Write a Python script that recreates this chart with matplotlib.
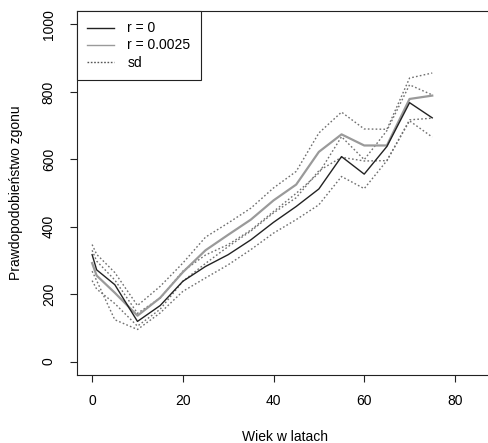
import matplotlib

matplotlib.use("Agg")
import matplotlib.pyplot as plt

plt.rcParams["font.family"] = ["Liberation Sans", "DejaVu Sans"]
plt.rcParams["font.size"] = 10

# age groups (years)
age = [0, 1, 5, 10, 15, 20, 25, 30, 35, 40, 45, 50, 55, 60, 65, 70, 75]

# r = 0
r0_mean = [317, 272, 228, 119, 166, 238, 282, 317, 361, 413, 460, 512, 608, 556, 638, 768, 723]
r0_hi = [330, 298, 242, 143, 188, 268, 316, 347, 390, 445, 499, 559, 667, 599, 685, 821, 791]
r0_lo = [268, 240, 124, 95, 144, 208, 248, 287, 332, 381, 421, 465, 549, 513, 596, 714, 666]

# r = 0.0025
r1_mean = [292, 255, 204, 136, 189, 265, 330, 376, 421, 478, 525, 622, 674, 641, 641, 779, 789]
r1_hi = [347, 318, 264, 166, 223, 292, 369, 411, 455, 515, 564, 678, 740, 690, 689, 841, 856]
r1_lo = [240, 215, 172, 105, 155, 238, 291, 341, 387, 441, 486, 566, 606, 595, 596, 717, 722]

x_ticks = [0, 20, 40, 60, 80]
y_ticks = [0, 200, 400, 600, 800, 1000]

W, H = 488, 443
fig = plt.figure(figsize=(W / 100, H / 100), dpi=100)
# plot region runs past the right edge, like the source image
left, right, top, bottom = 76.7, 493.0, 11.0, 375.0
ax = fig.add_axes([left / W, 1 - bottom / H, (right - left) / W, (bottom - top) / H])

dot_color = "#707070"
for band in (r0_hi, r0_lo, r1_hi, r1_lo):
    ax.plot(age, band, color=dot_color, linestyle=(0, (1.2, 1.6)), linewidth=1.0)
ax.plot(age, r1_mean, color="#9a9a9a", linewidth=1.6, label="r = 0.0025", zorder=3)
ax.plot(age, r0_mean, color="#222222", linewidth=1.0, label="r = 0", zorder=4)

ax.set_xlim(-3.4, 88.4)
ax.set_ylim(-40, 1040)
ax.set_xticks(x_ticks)
ax.set_yticks(y_ticks)
ax.set_yticklabels([str(v) for v in y_ticks], rotation=90, va="center")
ax.tick_params(axis="both", direction="out", length=5, width=0.8, color="#222222")
ax.tick_params(axis="x", pad=8.5)
ax.tick_params(axis="y", pad=10)
for side in ("left", "bottom", "top", "right"):
    ax.spines[side].set_linewidth(0.8)
    ax.spines[side].set_color("#222222")

ax.set_xlabel("Wiek w latach", va="center")
ax.xaxis.set_label_coords(0.5, -(437 - bottom) / (bottom - top))
ax.set_ylabel("Prawdopodobieństwo zgonu", va="center")
ax.yaxis.set_label_coords(-(left - 16) / (right - left), 0.5)

h0, = ax.plot([], [], color="#222222", linewidth=1.0)
h1, = ax.plot([], [], color="#9a9a9a", linewidth=1.0)
h2, = ax.plot([], [], color="#555555", linestyle=(0, (1.2, 1.2)), linewidth=1.0)
leg = ax.legend(
    [h0, h1, h2],
    ["r = 0", "r = 0.0025", "sd"],
    loc="upper left",
    bbox_to_anchor=(0, 1),
    borderaxespad=0,
    fancybox=False,
    framealpha=1,
    edgecolor="#222222",
    handlelength=1.95,
    handletextpad=0.95,
    labelspacing=0.22,
    borderpad=0.75,
)
leg.get_frame().set_linewidth(0.8)

fig.savefig("out.png", dpi=100)
